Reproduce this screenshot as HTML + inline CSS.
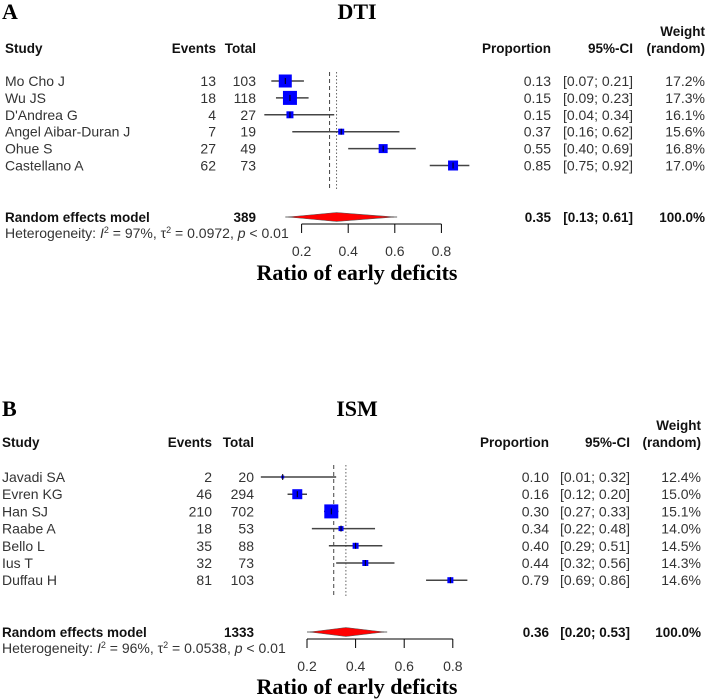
<!DOCTYPE html>
<html><head><meta charset="utf-8">
<style>
html,body{margin:0;padding:0;background:#fff;}
svg{display:block;font-family:"Liberation Sans",sans-serif;}
.t{font-size:14px;fill:#333;}
.b{font-size:13.5px;font-weight:bold;fill:#111;}
.ser{font-family:"Liberation Serif",serif;font-weight:bold;fill:#000;}
</style></head>
<body>
<svg id="chart" width="708" height="700" viewBox="0 0 708 700"></svg>
<script>
// Panel A (DTI)
const studiesA = ["Mo Cho J","Wu JS","D'Andrea G","Angel Aibar-Duran J","Ohue S","Castellano A"];
const eventsA = [13,18,4,7,27,62];
const totalsA = [103,118,27,19,49,73];
const propA = [0.13,0.15,0.15,0.37,0.55,0.85];
const lowA = [0.07,0.09,0.04,0.16,0.40,0.75];
const highA = [0.21,0.23,0.34,0.62,0.69,0.92];
const weightA = [17.2,17.3,16.1,15.6,16.8,17.0];
const sqA = [13,14,7,6,9,10];
const pooledA = [0.35,0.13,0.61];
const commonA = 0.32;
// Panel B (ISM)
const studiesB = ["Javadi SA","Evren KG","Han SJ","Raabe A","Bello L","Ius T","Duffau H"];
const eventsB = [2,46,210,18,35,32,81];
const totalsB = [20,294,702,53,88,73,103];
const propB = [0.10,0.16,0.30,0.34,0.40,0.44,0.79];
const lowB = [0.01,0.12,0.27,0.22,0.29,0.32,0.69];
const highB = [0.32,0.20,0.33,0.48,0.51,0.56,0.86];
const weightB = [12.4,15.0,15.1,14.0,14.5,14.3,14.6];
const sqB = [3,10,14,5,6,6,6];
const pooledB = [0.36,0.20,0.53];
const commonB = 0.31;
const ticks = [0.2,0.4,0.6,0.8];

const svg = document.getElementById('chart');
const NS = 'http://www.w3.org/2000/svg';
function mk(tag, attrs, text){
  const e = document.createElementNS(NS, tag);
  for (const k in attrs) e.setAttribute(k, attrs[k]);
  if (text !== undefined) e.textContent = text;
  svg.appendChild(e);
  return e;
}
function f2(v){return v.toFixed(2);}

function panel(P){
  const x = v => P.x0 + (v - 0.2) * P.k;
  let e;
  e = mk('text',{x:2,y:P.titleY+7,class:'ser','font-size':22},P.letter);
  
  
  e = mk('text',{x:357,y:P.titleY+7,class:'ser','font-size':22,'text-anchor':'middle'},P.title);
  
  
  const hy = P.headY + 5;
  const heads = [["Study",P.cStudy,'start'],["Events",P.cEv,'end'],["Total",P.cTot,'end'],["Proportion",P.cProp,'end'],["95%-CI",P.cCI,'end'],["(random)",P.cW,'end']];
  heads.forEach(h=>{
    e = mk('text',{x:h[1],y:hy,class:'b','text-anchor':h[2]},h[0]);
    
    
  });
  e = mk('text',{x:P.cW,y:hy-17,class:'b','text-anchor':'end'},"Weight");
  
  
  e = mk('line',{x1:x(P.common),x2:x(P.common),y1:P.vTop,y2:P.vBot,stroke:'#444','stroke-dasharray':'4,3','stroke-width':1});
  
  
  e = mk('line',{x1:x(P.pooled[0]),x2:x(P.pooled[0]),y1:P.vTop,y2:P.vBot,stroke:'#666','stroke-dasharray':'1.5,2','stroke-width':1});
  
  
  P.studies.forEach((s,i)=>{
    const y = P.rowY0 + i*P.rowH;
    e = mk('text',{x:P.cStudy,y:y+5,class:'t'},s);
    
    
    e = mk('text',{x:P.cEv,y:y+5,class:'t','text-anchor':'end'},P.events[i]);
    
    
    e = mk('text',{x:P.cTot,y:y+5,class:'t','text-anchor':'end'},P.totals[i]);
    
    
    e = mk('text',{x:P.cProp,y:y+5,class:'t','text-anchor':'end'},f2(P.prop[i]));
    
    
    e = mk('text',{x:P.cCI,y:y+5,class:'t','text-anchor':'end'},'['+f2(P.low[i])+'; '+f2(P.high[i])+']');
    
    
    e = mk('text',{x:P.cW,y:y+5,class:'t','text-anchor':'end'},P.weight[i].toFixed(1)+'%');
    
    
    e = mk('line',{x1:x(P.low[i]),x2:x(P.high[i]),y1:y,y2:y,stroke:'#444','stroke-width':1.5});
    
    
    const s2 = P.sq[i];
    e = mk('rect',{x:x(P.prop[i])-s2/2,y:y-s2/2,width:s2,height:s2,fill:'#0000ff'});
    
    
    e = mk('line',{x1:x(P.prop[i]),x2:x(P.prop[i]),y1:y-3,y2:y+3,stroke:'#000','stroke-width':1});
    
    
  });
  const py = P.poolY;
  e = mk('text',{x:P.cStudy,y:py+5,class:'b'},"Random effects model");
  
  
  e = mk('text',{x:P.cTot,y:py+5,class:'b','text-anchor':'end'},P.totals.reduce((a,b)=>a+b,0));
  
  
  e = mk('text',{x:P.cProp,y:py+5,class:'b','text-anchor':'end'},f2(P.pooled[0]));
  
  
  e = mk('text',{x:P.cCI,y:py+5,class:'b','text-anchor':'end'},'['+f2(P.pooled[1])+'; '+f2(P.pooled[2])+']');
  
  
  e = mk('text',{x:P.cW,y:py+5,class:'b','text-anchor':'end'},"100.0%");
  
  
  e = mk('line',{x1:x(P.pooled[1]),x2:x(P.pooled[2]),y1:py,y2:py,stroke:'#888','stroke-width':1.2});
  
  
  e = mk('polygon',{points:`${x(P.pooled[1])+3},${py} ${x(P.pooled[0])},${py-4.5} ${x(P.pooled[2])-3},${py} ${x(P.pooled[0])},${py+4.5}`,fill:'#ff0000',stroke:'#555','stroke-width':0.6});
  
  
  const het = mk('text',{x:P.cStudy,y:P.hetY+4,class:'t','font-size':13,fill:'#444'});
  
  
  het.innerHTML = `Heterogeneity: <tspan font-style="italic">I</tspan><tspan dy="-5" font-size="9">2</tspan><tspan dy="5"> = ${P.i2}%, τ</tspan><tspan dy="-5" font-size="9">2</tspan><tspan dy="5"> = ${P.tau2}, </tspan><tspan font-style="italic">p</tspan> &lt; 0.01`;
  e = mk('line',{x1:x(ticks[0]),x2:x(ticks[ticks.length-1]),y1:P.axY,y2:P.axY,stroke:'#000','stroke-width':1});
  
  
  ticks.forEach(t=>{
    e = mk('line',{x1:x(t),x2:x(t),y1:P.axY,y2:P.axY+9,stroke:'#000','stroke-width':1});
    
    
    e = mk('text',{x:x(t),y:P.tickY+5,class:'t','text-anchor':'middle','font-size':15},t.toFixed(1));
    
    
  });
  e = mk('text',{x:357,y:P.axTitleY+7,class:'ser','font-size':22,'text-anchor':'middle'},"Ratio of early deficits");
  
  
}

panel({letter:'A',title:'DTI',titleY:12,headY:48,x0:301.6,k:233,
  cStudy:5,cEv:216,cTot:256,cProp:551,cCI:633,cW:705,
  studies:studiesA,events:eventsA,totals:totalsA,prop:propA,low:lowA,high:highA,weight:weightA,sq:sqA,
  pooled:pooledA,common:commonA,rowY0:81,rowH:16.9,vTop:72,vBot:189,poolY:217,hetY:234,
  axY:224,tickY:251,axTitleY:273,i2:97,tau2:'0.0972'});
panel({letter:'B',title:'ISM',titleY:409,headY:442,x0:307,k:243,
  cStudy:2,cEv:212,cTot:254,cProp:549,cCI:630,cW:701,
  studies:studiesB,events:eventsB,totals:totalsB,prop:propB,low:lowB,high:highB,weight:weightB,sq:sqB,
  pooled:pooledB,common:commonB,rowY0:477,rowH:17.2,vTop:465,vBot:598,poolY:632,hetY:649,
  axY:639,tickY:666,axTitleY:687,i2:96,tau2:'0.0538'});
</script>
</body></html>
